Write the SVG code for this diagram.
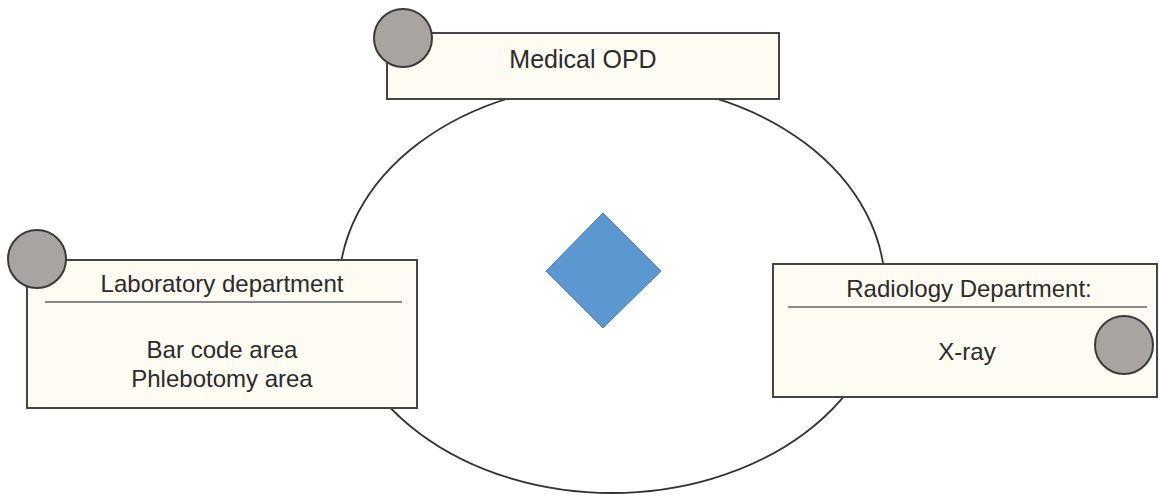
<svg xmlns="http://www.w3.org/2000/svg" width="1159" height="496" viewBox="0 0 1159 496">
<style>
.box{fill:#FEFCF2;stroke:#444;stroke-width:2}
.sep{stroke:#888;stroke-width:2}
.dot{fill:#A9A4A0;stroke:#3a3a3a;stroke-width:2}
.t{font-family:"Liberation Sans",Arial,sans-serif;font-size:24px;fill:#2b2b2b;text-anchor:middle}
</style>
<rect width="1159" height="496" fill="#fff"/>
<g id="connectors">
<ellipse cx="612" cy="288" rx="273" ry="205" fill="none" stroke="#333" stroke-width="1.8"/>
</g>
<g id="center-diamond">
<polygon points="603,213 661,271 603,328 546,271" fill="#5B97D0" stroke="#4A7DB0" stroke-width="1"/>
</g>
<g id="medical-opd">
<rect class="box" x="387" y="33" width="392" height="66"/>
<circle class="dot" cx="403" cy="38" r="29"/>
<text class="t" x="583" y="68" style="font-size:25px">Medical OPD</text>
</g>
<g id="laboratory">
<rect class="box" x="27" y="260" width="390" height="148"/>
<circle class="dot" cx="37" cy="259" r="29"/>
<text class="t" x="222" y="292">Laboratory department</text>
<line class="sep" x1="45" y1="302" x2="402" y2="302"/>
<text class="t" x="222" y="358">Bar code area</text>
<text class="t" x="222" y="387">Phlebotomy area</text>
</g>
<g id="radiology">
<rect class="box" x="773" y="264" width="384" height="133"/>
<text class="t" x="969" y="297">Radiology Department:</text>
<line class="sep" x1="788" y1="307" x2="1147" y2="307"/>
<text class="t" x="967" y="360">X-ray</text>
<circle class="dot" cx="1124" cy="345" r="29"/>
</g>
</svg>
